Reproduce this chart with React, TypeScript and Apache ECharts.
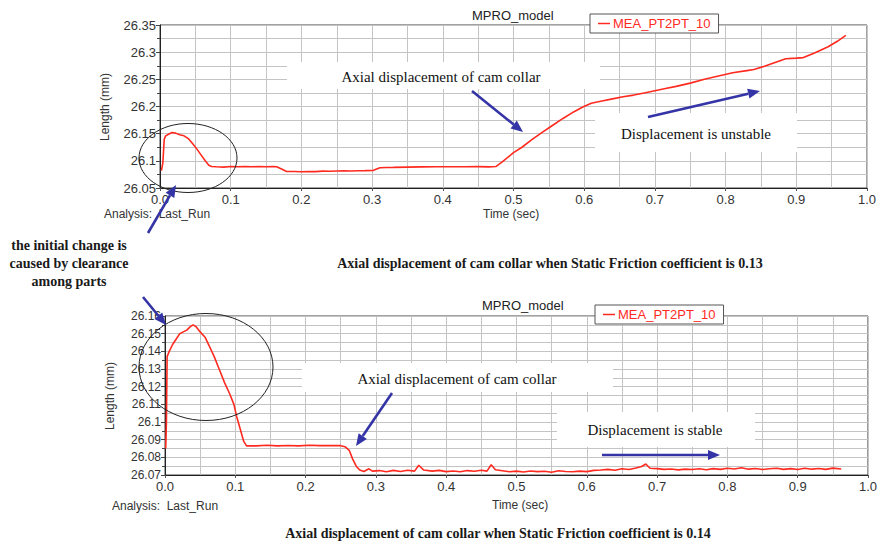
import React, { useEffect, useRef } from "react";
import * as echarts from "echarts";

// ---------- data ----------
const seriesName = "MEA_PT2PT_10";
const xTicks = [0, 0.1, 0.2, 0.3, 0.4, 0.5, 0.6, 0.7, 0.8, 0.9, 1.0];

// Top chart: static friction coefficient 0.13
const topTime = [
  0.002, 0.004, 0.006, 0.008, 0.012, 0.017, 0.022, 0.028, 0.034, 0.04, 0.046, 0.052,
  0.058, 0.064, 0.069, 0.073, 0.08, 0.09, 0.1, 0.11, 0.12, 0.13, 0.14, 0.15, 0.16,
  0.165, 0.172, 0.179, 0.19, 0.2, 0.21, 0.22, 0.23, 0.24, 0.25, 0.26, 0.27, 0.28,
  0.29, 0.302, 0.311, 0.32, 0.33, 0.35, 0.37, 0.39, 0.41, 0.43, 0.45, 0.465, 0.475,
  0.485, 0.5, 0.512, 0.525, 0.54, 0.555, 0.57, 0.585, 0.598, 0.61, 0.625, 0.64,
  0.655, 0.67, 0.685, 0.7, 0.715, 0.73, 0.75, 0.77, 0.79, 0.81, 0.83, 0.84, 0.855,
  0.87, 0.885, 0.9, 0.91, 0.925, 0.945, 0.958, 0.97,
];
const topLength = [
  26.082, 26.096, 26.14, 26.146, 26.149, 26.152, 26.151, 26.148, 26.146, 26.141, 26.132, 26.122,
  26.111, 26.1, 26.092, 26.0895, 26.089, 26.0885, 26.0895, 26.089, 26.0895, 26.089, 26.0895, 26.089, 26.0895,
  26.089, 26.085, 26.0805, 26.0805, 26.08, 26.0805, 26.0802, 26.081, 26.0808, 26.0812, 26.0815, 26.0812, 26.0818,
  26.082, 26.0825, 26.0872, 26.0878, 26.088, 26.0885, 26.0888, 26.089, 26.0892, 26.089, 26.0893, 26.0888, 26.0895,
  26.099, 26.115, 26.125, 26.138, 26.152, 26.165, 26.178, 26.19, 26.199, 26.206, 26.21, 26.214,
  26.218, 26.221, 26.225, 26.229, 26.233, 26.237, 26.243, 26.25, 26.256, 26.262, 26.266, 26.268, 26.274,
  26.281, 26.288, 26.289, 26.29, 26.298, 26.31, 26.32, 26.331,
];

// Bottom chart: static friction coefficient 0.14
const bottomTime = [
  0.001, 0.002, 0.003, 0.006, 0.011, 0.016, 0.021, 0.026, 0.031, 0.036, 0.04, 0.044,
  0.05, 0.057, 0.063, 0.07, 0.077, 0.085, 0.092, 0.098, 0.102, 0.107, 0.112, 0.116,
  0.13, 0.145, 0.16, 0.175, 0.19, 0.205, 0.22, 0.235, 0.25, 0.256, 0.262, 0.267,
  0.272, 0.277, 0.283, 0.29, 0.295, 0.305, 0.315, 0.325, 0.335, 0.345, 0.355, 0.361,
  0.368, 0.38, 0.39, 0.4, 0.41, 0.42, 0.43, 0.44, 0.45, 0.458, 0.464, 0.47, 0.48,
  0.49, 0.5, 0.51, 0.52, 0.53, 0.54, 0.55, 0.56, 0.57, 0.58, 0.59, 0.6, 0.61, 0.62,
  0.63, 0.64, 0.65, 0.66, 0.67, 0.678, 0.684, 0.69, 0.7, 0.71, 0.72, 0.73, 0.74,
  0.75, 0.76, 0.77, 0.78, 0.79, 0.8, 0.81, 0.82, 0.83, 0.84, 0.85, 0.86, 0.87, 0.88,
  0.89, 0.9, 0.91, 0.92, 0.93, 0.94, 0.95, 0.962,
];
const bottomLength = [
  26.085, 26.1, 26.137, 26.14, 26.144, 26.147, 26.15, 26.151, 26.152, 26.154, 26.155, 26.154,
  26.151, 26.148, 26.143, 26.137, 26.13, 26.122, 26.116, 26.11, 26.103, 26.096, 26.089, 26.0865,
  26.0865, 26.0868, 26.0865, 26.0867, 26.0865, 26.0868, 26.0866, 26.0867, 26.0866, 26.086, 26.084, 26.079,
  26.075, 26.0728, 26.072, 26.0735, 26.0722, 26.0725, 26.0718, 26.0726, 26.072, 26.0727, 26.0722, 26.0755,
  26.0728, 26.0722, 26.0726, 26.0719, 26.0723, 26.0718, 26.0725, 26.0721, 26.0727, 26.0722, 26.0758, 26.073,
  26.0724, 26.0718, 26.0722, 26.0717, 26.0723, 26.0719, 26.0721, 26.0716, 26.0724, 26.072, 26.0718, 26.0722,
  26.0719, 26.0726, 26.0728, 26.0732, 26.0727, 26.0735, 26.0731, 26.074, 26.0748, 26.0762, 26.0738, 26.0736,
  26.0732, 26.0734, 26.0729, 26.0733, 26.0731, 26.0735, 26.073, 26.0736, 26.0732, 26.0738, 26.0734, 26.0741,
  26.0733, 26.0737, 26.0731, 26.0735, 26.0738, 26.0732, 26.0736, 26.0731, 26.0738, 26.0733, 26.0737,
  26.0732, 26.0739, 26.0734,
];

const topYMin = 26.05;
const topYMax = 26.35;
const topYStep = 0.05;
const bottomYMin = 26.07;
const bottomYMax = 26.16;
const bottomYStep = 0.01;

const captionTop = "Axial displacement of cam collar when Static Friction coefficient is 0.13";
const captionBottom = "Axial displacement of cam collar when Static Friction coefficient is 0.14";
const noteLines = ["the initial change is", "caused by clearance", "among parts"];

// ---------- styling helpers ----------
const SANS = "'Liberation Sans', Arial, sans-serif";
const SERIF = "'Liberation Serif', 'Times New Roman', serif";
const RED = "#ff2a1f";
const BLUE = "#3434a6";
const GRID = "#c4c4c4";

function arrow(x1: number, y1: number, x2: number, y2: number) {
  const dx = x2 - x1;
  const dy = y2 - y1;
  const len = Math.sqrt(dx * dx + dy * dy);
  const ux = dx / len;
  const uy = dy / len;
  const head = 12;
  const half = 5;
  const bx = x2 - ux * head;
  const by = y2 - uy * head;
  return [
    {
      type: "line",
      z: 10,
      shape: { x1, y1, x2: bx, y2: by },
      style: { stroke: BLUE, lineWidth: 2.6 },
    },
    {
      type: "polygon",
      z: 10,
      shape: {
        points: [
          [x2, y2],
          [bx - uy * half, by + ux * half],
          [bx + uy * half, by - ux * half],
        ],
      },
      style: { fill: BLUE },
    },
  ];
}

function whiteBox(x: number, y: number, w: number, h: number) {
  return { type: "rect", z: 1, shape: { x, y, width: w, height: h }, style: { fill: "#fff" } };
}

function label(text: string, x: number, y: number, opts: any = {}) {
  return {
    type: "text",
    z: 10,
    x,
    y,
    rotation: opts.rotation || 0,
    style: {
      text,
      fill: opts.color || "#222",
      font: opts.font || `12px ${SANS}`,
      textAlign: opts.align || "left",
      textVerticalAlign: "middle",
    },
  };
}

const fmt = (v: number) => String(Number(v.toFixed(3)));

function makeXAxis(gridIndex: number) {
  return {
    type: "value",
    gridIndex,
    min: xTicks[0],
    max: xTicks[xTicks.length - 1],
    interval: 0.1,
    axisLine: { show: true, lineStyle: { color: "#222", width: 1 } },
    axisTick: { show: true, length: 3, inside: false, lineStyle: { color: "#555" } },
    axisLabel: {
      margin: 5,
      color: "#333",
      fontSize: 13,
      fontFamily: SANS,
      formatter: (v: number) => v.toFixed(1),
    },
    splitLine: { show: true, lineStyle: { color: GRID, width: 1 } },
    minorTick: { show: false, splitNumber: 2 },
    minorSplitLine: { show: true, lineStyle: { color: GRID, width: 1 } },
  };
}

function makeYAxis(gridIndex: number, min: number, max: number, step: number, fontSize: number) {
  return {
    type: "value",
    gridIndex,
    min,
    max,
    interval: step,
    axisLine: { show: true, lineStyle: { color: "#222", width: 1 } },
    axisTick: { show: true, length: 4, lineStyle: { color: "#444" } },
    minorTick: { show: true, splitNumber: 2, length: 3, lineStyle: { color: "#444" } },
    axisLabel: { margin: 4, color: "#333", fontSize, fontFamily: SANS, formatter: fmt },
    splitLine: { show: true, lineStyle: { color: GRID, width: 1 } },
    minorSplitLine: { show: true, lineStyle: { color: GRID, width: 1 } },
  };
}

export default function App() {
  const ref = useRef<HTMLDivElement>(null);

  useEffect(() => {
    if (!ref.current) return;
    const chart = echarts.init(ref.current, undefined, { renderer: "svg" });

    const topData = topTime.map((t, i) => [t, topLength[i]]);
    const bottomData = bottomTime.map((t, i) => [t, bottomLength[i]]);

    const legendBase = {
      data: [seriesName],
      selectedMode: false,
      icon: "rect",
      itemWidth: 12,
      itemHeight: 1.5,
      itemGap: 0,
      padding: [3, 8, 3, 8],
      backgroundColor: "#fff",
      borderColor: "#555",
      borderWidth: 1,
      textStyle: { color: RED, fontSize: 13, fontFamily: SANS, padding: [0, 0, 0, -2] },
      z: 20,
    };

    const graphics: any[] = [
      // white annotation boxes
      whiteBox(287, 62, 313, 27),
      whiteBox(595, 113, 202, 39),
      whiteBox(302, 363, 311, 29),
      whiteBox(557, 412, 198, 35),
      // ellipses
      {
        type: "ellipse",
        z: 10,
        shape: { cx: 188, cy: 158, rx: 49, ry: 34.5 },
        style: { fill: "none", stroke: "#222", lineWidth: 1 },
      },
      {
        type: "ellipse",
        z: 10,
        shape: { cx: 206, cy: 367, rx: 67, ry: 53.5 },
        style: { fill: "none", stroke: "#222", lineWidth: 1 },
      },
      // annotation texts
      label("Axial displacement of cam collar", 441, 77, { font: `15px ${SERIF}`, align: "center", color: "#111" }),
      label("Displacement is unstable", 696, 134, { font: `15px ${SERIF}`, align: "center", color: "#111" }),
      label("Axial displacement of cam collar", 457, 379, { font: `15px ${SERIF}`, align: "center", color: "#111" }),
      label("Displacement is stable", 655, 430, { font: `15px ${SERIF}`, align: "center", color: "#111" }),
      label(noteLines[0], 69, 245, { font: `bold 14px ${SERIF}`, align: "center", color: "#1a1a1a" }),
      label(noteLines[1], 69, 263, { font: `bold 14px ${SERIF}`, align: "center", color: "#1a1a1a" }),
      label(noteLines[2], 69, 281, { font: `bold 14px ${SERIF}`, align: "center", color: "#1a1a1a" }),
      // captions
      label(captionTop, 550, 263, { font: `bold 14px ${SERIF}`, align: "center", color: "#1a1a1a" }),
      label(captionBottom, 498, 533, { font: `bold 14px ${SERIF}`, align: "center", color: "#1a1a1a" }),
      // axis names and analysis labels
      label("Length (mm)", 105, 107, { rotation: Math.PI / 2, align: "center", color: "#333" }),
      label("Length (mm)", 110, 396, { rotation: Math.PI / 2, align: "center", color: "#333" }),
      label("Analysis:  Last_Run", 104, 214, { font: `12px ${SANS}`, color: "#333" }),
      label("Analysis:  Last_Run", 112, 506, { font: `12px ${SANS}`, color: "#333" }),
      label("Time (sec)", 483, 214, { font: `12px ${SANS}`, color: "#333" }),
      label("Time (sec)", 492, 505, { font: `12px ${SANS}`, color: "#333" }),
      label("MPRO_model", 472, 15, { font: `13px ${SANS}`, color: "#222" }),
      label("MPRO_model", 482, 305, { font: `13px ${SANS}`, color: "#222" }),
      // arrows
      ...arrow(472, 91, 523, 132),
      ...arrow(648, 117, 760, 91),
      ...arrow(148, 233, 176, 185),
      ...arrow(143, 297, 166, 325),
      ...arrow(392, 393, 356, 446),
      ...arrow(602, 455, 720, 455),
    ];

    chart.setOption({
      animation: false,
      backgroundColor: "#fff",
      grid: [
        { left: 160, top: 25, width: 707, height: 163, show: true, borderColor: "#444", borderWidth: 1, backgroundColor: "#fff" },
        { left: 165, top: 316, width: 707, height: 159, show: true, borderColor: "#444", borderWidth: 1, backgroundColor: "#fff" },
      ],
      xAxis: [makeXAxis(0), makeXAxis(1)],
      yAxis: [
        makeYAxis(0, topYMin, topYMax, topYStep, 13),
        makeYAxis(1, bottomYMin, bottomYMax, bottomYStep, 12),
      ],
      legend: [
        { ...legendBase, left: 590, top: 14 },
        { ...legendBase, left: 595, top: 305 },
      ],
      series: [
        {
          name: seriesName,
          type: "line",
          xAxisIndex: 0,
          yAxisIndex: 0,
          data: topData,
          showSymbol: false,
          lineStyle: { color: RED, width: 1.6 },
          itemStyle: { color: RED },
          z: 3,
        },
        {
          name: seriesName,
          type: "line",
          xAxisIndex: 1,
          yAxisIndex: 1,
          data: bottomData,
          showSymbol: false,
          lineStyle: { color: RED, width: 1.6 },
          itemStyle: { color: RED },
          z: 3,
        },
      ],
      graphic: graphics,
    });

    return () => chart.dispose();
  }, []);

  return (
    <div
      ref={ref}
      style={{ position: "fixed", left: 0, top: 0, width: 880, height: 545, background: "#fff" }}
    />
  );
}
